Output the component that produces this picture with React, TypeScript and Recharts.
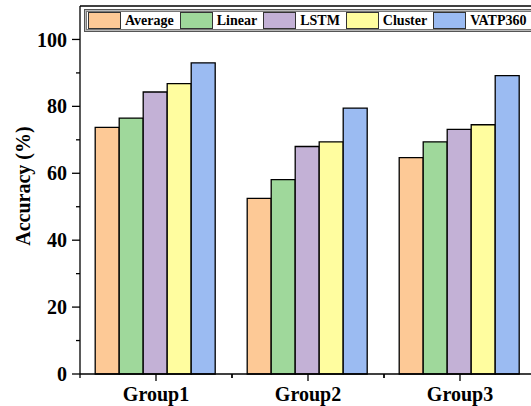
import React from 'react';
import { BarChart, Bar, XAxis, YAxis, Legend, ReferenceLine, Label } from 'recharts';

// Groups along the x axis
const groups = ['Group1', 'Group2', 'Group3'];

// Accuracy (%) per method, one value per group
const average = [73.7, 52.5, 64.7];
const linear = [76.5, 58.1, 69.4];
const lstm = [84.3, 68.0, 73.1];
const cluster = [86.8, 69.4, 74.5];
const vatp360 = [93.0, 79.5, 89.2];

// Y axis ticks: labelled majors and unlabelled minors
const yTicks = [0, 10, 20, 30, 40, 50, 60, 70, 80, 90, 100];
const yMax = 110;

const series = [
  { key: 'Average', values: average, color: '#FDC996' },
  { key: 'Linear', values: linear, color: '#9FD89B' },
  { key: 'LSTM', values: lstm, color: '#C3B1D6' },
  { key: 'Cluster', values: cluster, color: '#FFFD9F' },
  { key: 'VATP360', values: vatp360, color: '#9BBBF2' },
];
const seriesOrder = series.map((s) => s.key);

const data = groups.map((g, i) => {
  const row: Record<string, string | number> = { group: g };
  series.forEach((s) => {
    row[s.key] = s.values[i];
  });
  return row;
});

const FONT = '"Liberation Serif", "Times New Roman", Times, serif';
const AXIS_W = 1.3;

const Y_TICK_SIZE = 8;
const Y_TICK_MARGIN = 5;
const X_TICK_SIZE = 7;
const X_TICK_MARGIN = 6;

function YTick(props: any) {
  const { x, y, payload } = props;
  const axisX = x + Y_TICK_SIZE + Y_TICK_MARGIN;
  const major = payload.value % 20 === 0;
  const len = major ? Y_TICK_SIZE : 4;
  return (
    <g>
      <line x1={axisX - len} x2={axisX} y1={y} y2={y} stroke="#000" strokeWidth={AXIS_W} />
      {major && (
        <text
          x={x}
          y={y}
          dy="0.355em"
          textAnchor="end"
          fontFamily={FONT}
          fontWeight="bold"
          fontSize={20}
          fill="#000"
        >
          {payload.value}
        </text>
      )}
    </g>
  );
}

function XTick(props: any) {
  const { x, y, payload } = props;
  const axisY = y - X_TICK_SIZE - X_TICK_MARGIN;
  const half = payload.offset || 0;
  return (
    <g>
      <line x1={x} x2={x} y1={axisY} y2={axisY + X_TICK_SIZE} stroke="#000" strokeWidth={AXIS_W} />
      {half > 0 && (
        <>
          <line x1={x - half} x2={x - half} y1={axisY} y2={axisY + 4} stroke="#000" strokeWidth={AXIS_W} />
          <line x1={x + half} x2={x + half} y1={axisY} y2={axisY + 4} stroke="#000" strokeWidth={AXIS_W} />
        </>
      )}
      <text
        x={x}
        y={y}
        dy="0.71em"
        textAnchor="middle"
        fontFamily={FONT}
        fontWeight="bold"
        fontSize={20}
        fill="#000"
      >
        {payload.value}
      </text>
    </g>
  );
}

function YTitle(props: any) {
  const vb = props.viewBox || { x: 0, y: 0, height: 0 };
  const cx = vb.x + 23;
  const cy = vb.y + vb.height / 2 - 4;
  return (
    <text
      x={cx}
      y={cy}
      transform={`rotate(-90 ${cx} ${cy})`}
      textAnchor="middle"
      dominantBaseline="central"
      fontFamily={FONT}
      fontWeight="bold"
      fontSize={20}
      fill="#000"
    >
      Accuracy (%)
    </text>
  );
}

function LegendBox(props: any) {
  const items = [...(props.payload || [])].sort(
    (a: any, b: any) => seriesOrder.indexOf(a.value) - seriesOrder.indexOf(b.value)
  );
  return (
    <div
      style={{
        boxSizing: 'border-box',
        width: 460,
        height: 23,
        border: '1px solid #555',
        boxShadow: 'inset 0 0 0 1px #b8b8b8, inset 0 0 0 2px #777',
        display: 'flex',
        alignItems: 'center',
        paddingLeft: 3,
        fontFamily: FONT,
        fontWeight: 'bold',
        fontSize: 14,
        color: '#000',
        whiteSpace: 'nowrap',
      }}
    >
      {items.map((it: any) => (
        <div key={it.value} style={{ display: 'flex', alignItems: 'center', marginRight: 6 }}>
          <span
            style={{
              boxSizing: 'border-box',
              display: 'inline-block',
              width: 33,
              height: 17,
              background: it.color,
              border: '1px solid #333',
            }}
          />
          <span style={{ marginLeft: 4, lineHeight: '17px' }}>{it.value}</span>
        </div>
      ))}
    </div>
  );
}

export default function App() {
  return (
    <div
      style={{
        position: 'absolute',
        left: 0,
        top: 0,
        width: 531,
        height: 406,
        overflow: 'hidden',
        background: '#fff',
      }}
    >
      <BarChart
        width={560}
        height={406}
        data={data}
        margin={{ top: 6, right: 24, bottom: 0, left: 0 }}
        barCategoryGap="10%"
        barGap={0}
      >
        <XAxis
          dataKey="group"
          height={32}
          tickLine={false}
          tickSize={X_TICK_SIZE}
          tickMargin={X_TICK_MARGIN}
          tick={<XTick />}
          axisLine={{ stroke: '#000', strokeWidth: AXIS_W }}
          interval={0}
        />
        <YAxis
          width={80}
          domain={[0, yMax]}
          ticks={yTicks}
          interval={0}
          tickLine={false}
          tickSize={Y_TICK_SIZE}
          tickMargin={Y_TICK_MARGIN}
          tick={<YTick />}
          axisLine={{ stroke: '#000', strokeWidth: AXIS_W }}
        >
          <Label content={<YTitle />} />
        </YAxis>
        <ReferenceLine y={yMax} stroke="#000" strokeWidth={AXIS_W} />
        <Legend
          layout="vertical"
          align="center"
          verticalAlign="middle"
          content={<LegendBox />}
          wrapperStyle={{ left: 84, top: 9, width: 460 }}
        />
        {series.map((s) => (
          <Bar
            key={s.key}
            dataKey={s.key}
            name={s.key}
            fill={s.color}
            stroke="#000"
            strokeWidth={1.3}
            isAnimationActive={false}
          />
        ))}
      </BarChart>
    </div>
  );
}
